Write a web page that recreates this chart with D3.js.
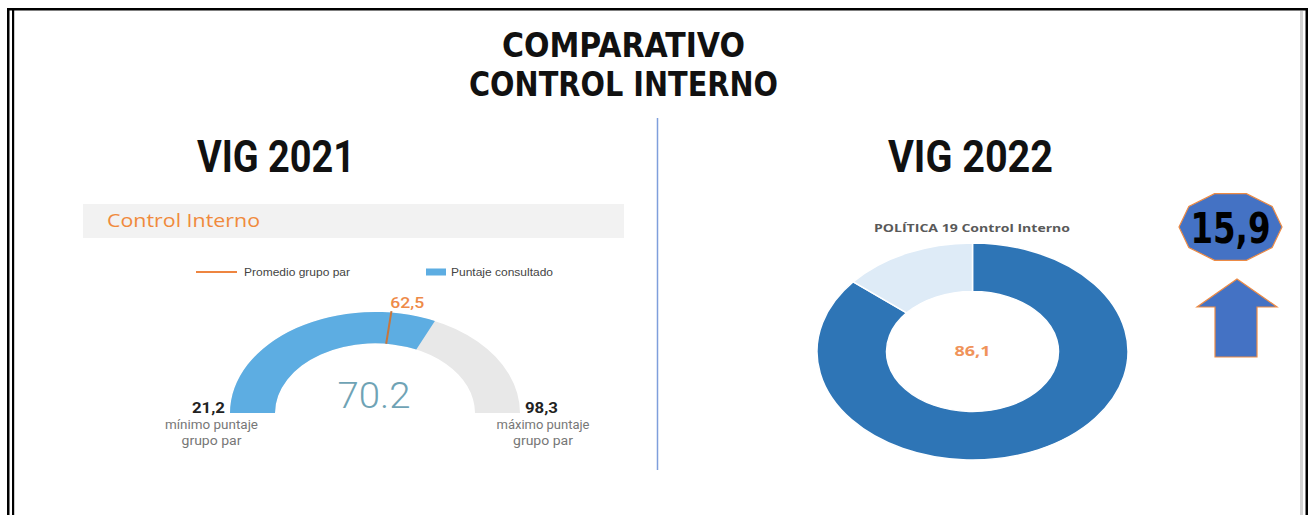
<!DOCTYPE html>
<html><head><meta charset="utf-8">
<script src="https://cdn.jsdelivr.net/npm/d3@7"></script>
<style>html,body{margin:0;padding:0;background:#fff;}svg{display:block;}</style>
</head><body>
<script>
// ---- data ----
const titleLines = ["COMPARATIVO", "CONTROL INTERNO"];
const panelTitles = ["VIG 2021", "VIG 2022"];
const gaugeRange = [21.2, 98.3];           // mínimo / máximo puntaje grupo par
const gaugeValue = 70.2;                   // puntaje consultado
const gaugeAverage = 62.5;                 // promedio grupo par
const gaugeRangeLabels = ["21,2", "98,3"];
const gaugeAverageLabel = "62,5";
const gaugeValueLabel = "70.2";
const legendItems = ["Promedio grupo par", "Puntaje consultado"];
const donutCategories = ["Control Interno", "Resto"];
const donutValues = [86.1, 13.9];
const donutLabel = "86,1";
const donutTitle = "POLÍTICA 19 Control Interno";
const changeLabel = "15,9";

const W = 1310, H = 515;
const svg = d3.select("body").append("svg").attr("width", W).attr("height", H);
svg.append("rect").attr("width", W).attr("height", H).attr("fill", "#fff");

// ---- frame ----
svg.append("rect").attr("x", 7).attr("y", 8).attr("width", 1301).attr("height", 2.5).attr("fill", "#000");
svg.append("rect").attr("x", 7).attr("y", 8).attr("width", 2.5).attr("height", 510).attr("fill", "#000");
svg.append("rect").attr("x", 12).attr("y", 10).attr("width", 2.2).attr("height", 510).attr("fill", "#000");
svg.append("rect").attr("x", 1300).attr("y", 11).attr("width", 3).attr("height", 510).attr("fill", "#d4d4d4");
svg.append("rect").attr("x", 1305.5).attr("y", 8).attr("width", 2.5).attr("height", 510).attr("fill", "#000");

// ---- title ----
const condensed = "'Liberation Sans Narrow','DejaVu Sans Condensed','Roboto Condensed',sans-serif";
svg.append("text").attr("x", 623.5).attr("y", 57).attr("text-anchor", "middle")
  .attr("font-family", condensed).attr("font-weight", "bold").attr("font-size", 34)
  .attr("textLength", 243).attr("lengthAdjust", "spacingAndGlyphs").attr("fill", "#111").text(titleLines[0]);
svg.append("text").attr("x", 623.5).attr("y", 96).attr("text-anchor", "middle")
  .attr("font-family", condensed).attr("font-weight", "bold").attr("font-size", 34)
  .attr("textLength", 309).attr("lengthAdjust", "spacingAndGlyphs").attr("fill", "#111").text(titleLines[1]);

// divider
svg.append("line").attr("x1", 657.5).attr("x2", 657.5).attr("y1", 118).attr("y2", 470)
  .attr("stroke", "#7f9fdc").attr("stroke-width", 1.5);

// panel titles
[[276, 158], [970.5, 165]].forEach((p, i) => {
  svg.append("text").attr("x", p[0]).attr("y", 172).attr("text-anchor", "middle")
    .attr("font-family", "Roboto, 'DejaVu Sans', sans-serif").attr("font-weight", "bold").attr("font-size", 44)
    .attr("textLength", p[1]).attr("lengthAdjust", "spacingAndGlyphs").attr("fill", "#111").text(panelTitles[i]);
});

// ---- left panel: gauge ----
svg.append("rect").attr("x", 83).attr("y", 204).attr("width", 541).attr("height", 34).attr("fill", "#f2f2f2");
svg.append("text").attr("x", 107).attr("y", 227).attr("font-family", "'Open Sans', sans-serif")
  .attr("font-size", 18).attr("fill", "#f08a3c").attr("textLength", 153).attr("lengthAdjust", "spacingAndGlyphs")
  .text("Control Interno");

// legend
svg.append("line").attr("x1", 196).attr("x2", 237).attr("y1", 272).attr("y2", 272).attr("stroke", "#ee8540").attr("stroke-width", 2);
svg.append("text").attr("x", 244).attr("y", 275.5).attr("font-family", "'Liberation Sans', Arial, sans-serif")
  .attr("font-size", 10.5).attr("fill", "#444").attr("textLength", 106).attr("lengthAdjust", "spacingAndGlyphs").text(legendItems[0]);
svg.append("rect").attr("x", 426).attr("y", 268.5).attr("width", 20).attr("height", 7).attr("fill", "#5dade2");
svg.append("text").attr("x", 451).attr("y", 275.5).attr("font-family", "'Liberation Sans', Arial, sans-serif")
  .attr("font-size", 10.5).attr("fill", "#444").attr("textLength", 102).attr("lengthAdjust", "spacingAndGlyphs").text(legendItems[1]);

const gcx = 375, gcy = 413, gOuter = 145, gInner = 100, gSy = 0.697;
const ang = d3.scaleLinear().domain(gaugeRange).range([-Math.PI / 2, Math.PI / 2]);
const gArc = d3.arc().innerRadius(gInner).outerRadius(gOuter);
const gg = svg.append("g").attr("transform", `translate(${gcx},${gcy}) scale(1,${gSy})`);
gg.append("path").attr("d", gArc({startAngle: ang(gaugeRange[0]), endAngle: ang(gaugeRange[1])})).attr("fill", "#e8e8e8");
gg.append("path").attr("d", gArc({startAngle: ang(gaugeRange[0]), endAngle: ang(gaugeValue)})).attr("fill", "#5dade2");
const aAvg = ang(gaugeAverage);
gg.append("line")
  .attr("x1", gInner * Math.sin(aAvg)).attr("y1", -gInner * Math.cos(aAvg))
  .attr("x2", (gOuter + 2) * Math.sin(aAvg)).attr("y2", -(gOuter + 2) * Math.cos(aAvg))
  .attr("stroke", "#c8763c").attr("stroke-width", 2).attr("vector-effect", "non-scaling-stroke");

const numFont = "Roboto, 'Open Sans', sans-serif";
svg.append("text").attr("x", gcx + (gOuter) * Math.sin(aAvg) - 1).attr("y", gcy - (gOuter + 12) * gSy * Math.cos(aAvg) + 4)
  .attr("font-family", numFont).attr("font-weight", 500).attr("font-size", 14).attr("fill", "#ee8a48")
  .attr("textLength", 34).attr("lengthAdjust", "spacingAndGlyphs").text(gaugeAverageLabel);
svg.append("text").attr("x", gcx - 1).attr("y", 408).attr("text-anchor", "middle")
  .attr("font-family", numFont).attr("font-weight", 300).attr("font-size", 37).attr("fill", "#6fa3b5")
  .attr("textLength", 73).attr("lengthAdjust", "spacingAndGlyphs").text(gaugeValueLabel);

// min / max labels
[[208.5, "mínimo puntaje", 211.5], [541.5, "máximo puntaje", 543]].forEach((d, i) => {
  svg.append("text").attr("x", d[0]).attr("y", 413).attr("text-anchor", "middle")
    .attr("font-family", numFont).attr("font-weight", "bold").attr("font-size", 14).attr("fill", "#222")
    .attr("textLength", 33).attr("lengthAdjust", "spacingAndGlyphs").text(gaugeRangeLabels[i]);
  svg.append("text").attr("x", d[2]).attr("y", 429).attr("text-anchor", "middle")
    .attr("font-family", numFont).attr("font-size", 12).attr("fill", "#777")
    .attr("textLength", 93).attr("lengthAdjust", "spacingAndGlyphs").text(d[1]);
  svg.append("text").attr("x", d[2]).attr("y", 445).attr("text-anchor", "middle")
    .attr("font-family", numFont).attr("font-size", 12).attr("fill", "#777")
    .attr("textLength", 60).attr("lengthAdjust", "spacingAndGlyphs").text("grupo par");
});

// ---- right panel: donut ----
svg.append("text").attr("x", 972).attr("y", 232).attr("text-anchor", "middle")
  .attr("font-family", "'Open Sans', sans-serif").attr("font-weight", "bold").attr("font-size", 11)
  .attr("fill", "#595959").attr("textLength", 196).attr("lengthAdjust", "spacingAndGlyphs").text(donutTitle);

const dcx = 972.5, dcy = 351.5, dOuter = 155.5, dInner = 86, dSy = 0.698;
const pie = d3.pie().sort(null).value(d => d)(donutValues);
const dArc = d3.arc().innerRadius(dInner).outerRadius(dOuter);
const dColors = d3.scaleOrdinal().domain(donutCategories).range(["#2e75b6", "#deebf7"]);
const dg = svg.append("g").attr("transform", `translate(${dcx},${dcy}) scale(1,${dSy})`);
dg.selectAll("path").data(pie).join("path").attr("d", dArc)
  .attr("fill", (d, i) => dColors(donutCategories[i]))
  .attr("stroke", "#fff").attr("stroke-width", 1.5).attr("vector-effect", "non-scaling-stroke");
svg.append("text").attr("x", dcx).attr("y", 356).attr("text-anchor", "middle")
  .attr("font-family", "'Open Sans', sans-serif").attr("font-weight", "bold").attr("font-size", 14)
  .attr("fill", "#f0935a").attr("textLength", 36).attr("lengthAdjust", "spacingAndGlyphs").text(donutLabel);

// decagon badge
const bcx = 1230.5, bcy = 227, brx = 51.5, bry = 35;
const poly = d3.range(10).map(k => {
  const a = k * Math.PI / 5;
  return [bcx + brx * Math.cos(a), bcy - bry * Math.sin(a)];
});
svg.append("path").attr("d", d3.line()(poly) + "Z").attr("fill", "#4472c4").attr("stroke", "#ed8b45").attr("stroke-width", 1.2);
svg.append("text").attr("x", bcx).attr("y", 243).attr("text-anchor", "middle")
  .attr("font-family", condensed).attr("font-weight", "bold").attr("font-size", 42)
  .attr("textLength", 80).attr("lengthAdjust", "spacingAndGlyphs").attr("fill", "#000").text(changeLabel);

// up arrow
const arrow = [[1237, 279], [1277, 307], [1257, 307], [1257, 357], [1215, 357], [1215, 307], [1197, 307]];
svg.append("path").attr("d", d3.line()(arrow) + "Z").attr("fill", "#4472c4").attr("stroke", "#ed8b45").attr("stroke-width", 1.2);
</script>
</body></html>
